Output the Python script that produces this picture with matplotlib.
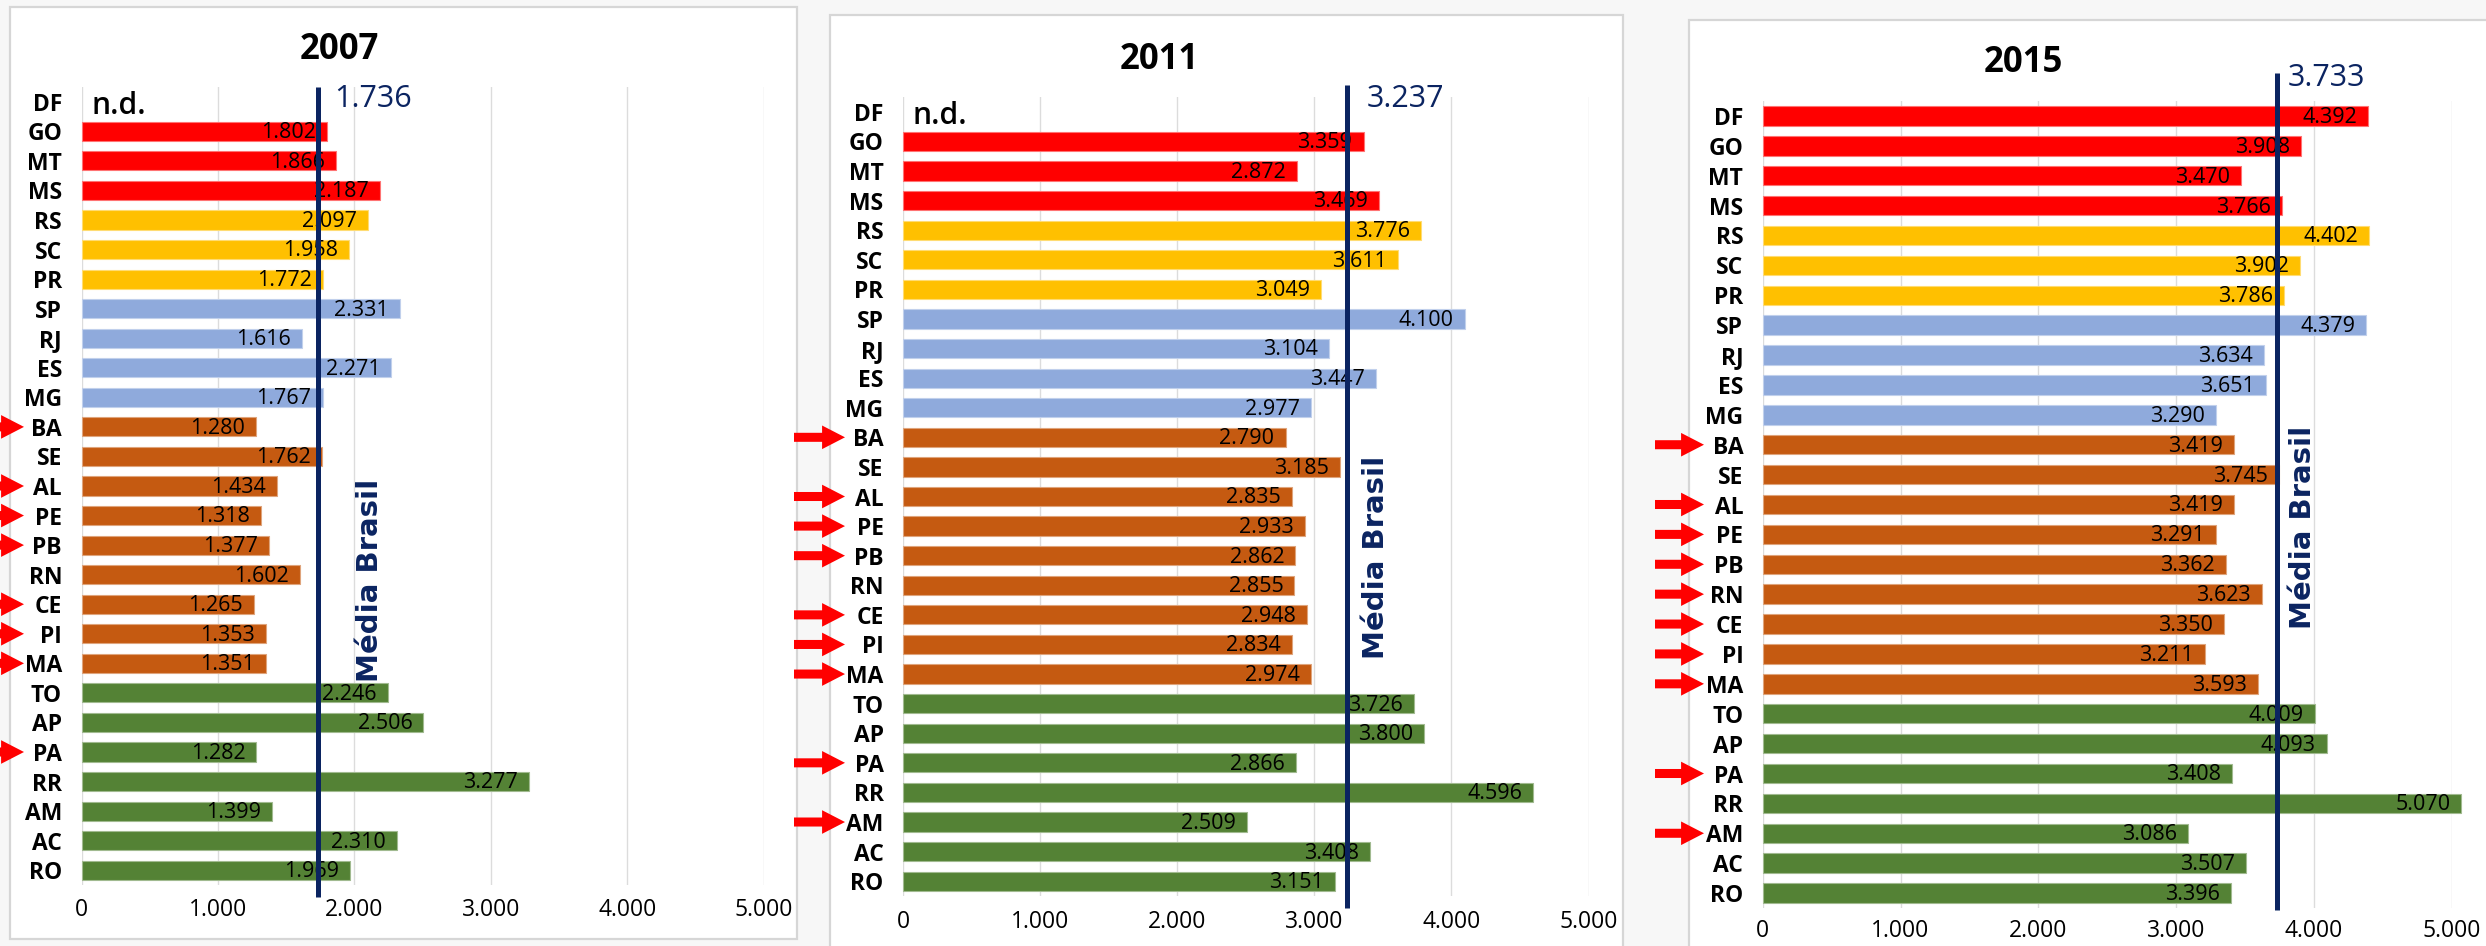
import numpy as np
import matplotlib
matplotlib.use("Agg")
import matplotlib.pyplot as plt
from matplotlib.transforms import blended_transform_factory
from matplotlib.patches import Rectangle
from matplotlib.colors import to_rgb

plt.rcParams['font.family'] = ['Open Sans', 'DejaVu Sans']

# ---- data -------------------------------------------------------------
states = ["DF", "GO", "MT", "MS", "RS", "SC", "PR", "SP", "RJ", "ES", "MG",
          "BA", "SE", "AL", "PE", "PB", "RN", "CE", "PI", "MA",
          "TO", "AP", "PA", "RR", "AM", "AC", "RO"]
regions = ["CO"] * 4 + ["S"] * 3 + ["SE"] * 4 + ["NE"] * 9 + ["N"] * 7

values_2007 = [None, 1802, 1866, 2187, 2097, 1958, 1772, 2331, 1616, 2271, 1767,
               1280, 1762, 1434, 1318, 1377, 1602, 1265, 1353, 1351,
               2246, 2506, 1282, 3277, 1399, 2310, 1969]
values_2011 = [None, 3359, 2872, 3469, 3776, 3611, 3049, 4100, 3104, 3447, 2977,
               2790, 3185, 2835, 2933, 2862, 2855, 2948, 2834, 2974,
               3726, 3800, 2866, 4596, 2509, 3408, 3151]
values_2015 = [4392, 3908, 3470, 3766, 4402, 3902, 3786, 4379, 3634, 3651, 3290,
               3419, 3745, 3419, 3291, 3362, 3623, 3350, 3211, 3593,
               4009, 4093, 3408, 5070, 3086, 3507, 3396]

years = ["2007", "2011", "2015"]
brazil_mean = [1736, 3237, 3733]

flagged_2007 = ["BA", "AL", "PE", "PB", "CE", "PI", "MA", "PA"]
flagged_2011 = ["BA", "AL", "PE", "PB", "CE", "PI", "MA", "PA", "AM"]
flagged_2015 = ["BA", "AL", "PE", "PB", "RN", "CE", "PI", "MA", "PA", "AM"]

x_ticks = [0, 1000, 2000, 3000, 4000, 5000]

# ---- styling ------------------------------------------------------------
region_colors = {"CO": "#FF0000", "S": "#FFC000", "SE": "#8FAADC",
                 "NE": "#C55A11", "N": "#548235"}
NAVY = "#0B2461"
GRID = "#DCDCDC"


def lighten(c, k=0.45):
    r, g, b = to_rgb(c)
    return (r + (1 - r) * k, g + (1 - g) * k, b + (1 - b) * k)


W, H = 2486, 946
fig = plt.figure(figsize=(W / 100, H / 100), dpi=100)
fig.patch.set_facecolor("#F7F7F7")


def fx(x):
    return x / W


def fy(y):
    return 1 - y / H


def fmt(v):
    return f"{v:,.0f}".replace(",", ".")


# panel layout in pixels: white card, plot area, decorations
panels = [
    dict(card=(9.5, 7, 797, 939), plot=(81.5, 87, 763.8, 885),
         title=(339, 50), line=(87, 897), mean_dx=16, mean_y=99,
         media=(370.5, 580), arrow=(-28, 24), xpad=9, nd=True),
    dict(card=(829.5, 15, 1623, 960), plot=(903, 97, 1588.5, 896),
         title=(1159, 60), line=(85, 908), mean_dx=20, mean_y=99,
         media=(1375.5, 557), arrow=(794, 845), xpad=10, nd=True),
    dict(card=(1689, 20, 2500, 960), plot=(1762.7, 101, 2451.8, 908),
         title=(2023.5, 63), line=(73, 910), mean_dx=11, mean_y=78,
         media=(2302.7, 527), arrow=(1655, 1704), xpad=8, nd=False),
]
series = [values_2007, values_2011, values_2015]
flags = [flagged_2007, flagged_2011, flagged_2015]

for p, vals, year, mean, flagged in zip(panels, series, years, brazil_mean, flags):
    # white card behind each chart
    cl, ct, cr, cb = p["card"]
    fig.patches.append(Rectangle((fx(cl), fy(cb)), fx(cr - cl), (cb - ct) / H,
                                 transform=fig.transFigure, facecolor="white",
                                 edgecolor="#D6D6D6", linewidth=1.6, zorder=-5))

    l, t, r, b = p["plot"]
    ax = fig.add_axes([fx(l), fy(b), fx(r - l), (b - t) / H])
    ax.set_zorder(2)
    ax.set_facecolor("none")
    ax.set_xlim(0, 5000)
    ax.set_ylim(len(states) - 0.5, -0.5)

    for xt in x_ticks:
        ax.axvline(xt, color=GRID, lw=1.0, zorder=0)

    idx = [i for i, v in enumerate(vals) if v is not None]
    ax.barh(idx, [vals[i] for i in idx], height=0.65,
            color=[region_colors[regions[i]] for i in idx],
            edgecolor=[lighten(region_colors[regions[i]]) for i in idx],
            linewidth=0.8, clip_on=False, zorder=2)
    for i in idx:
        ax.annotate(fmt(vals[i]), xy=(vals[i], i), xytext=(-8, -1),
                    textcoords="offset points", ha="right", va="center",
                    fontsize=15.5, color="black", zorder=4,
                    annotation_clip=False)
    if p["nd"]:
        ax.annotate("n.d.", xy=(0, 0), xytext=(7, -3), textcoords="offset points",
                    ha="left", va="center", fontsize=21.5, fontweight="semibold",
                    color="black")

    ax.set_yticks(range(len(states)))
    ax.set_yticklabels(states, fontsize=16.5, fontweight="bold")
    ax.set_xticks(x_ticks)
    ax.set_xticklabels([fmt(v) for v in x_ticks], fontsize=16.5)
    ax.tick_params(axis="both", length=0, colors="black")
    ax.tick_params(axis="y", pad=14)
    ax.tick_params(axis="x", pad=p["xpad"])
    for s in ax.spines.values():
        s.set_visible(False)

    # Brazil average line and its labels
    line_top, line_bot = p["line"]
    y_of = lambda ypix: (ypix - t) / (b - t) * len(states) - 0.5
    ax.plot([mean, mean], [y_of(line_top), y_of(line_bot)], color=NAVY,
            lw=3.6, clip_on=False, zorder=5, solid_capstyle="butt")
    mx = l + mean / 5000 * (r - l)
    fig.text(fx(mx + p["mean_dx"]), fy(p["mean_y"]), fmt(mean), fontsize=22,
             color=NAVY, ha="left", va="center")
    fig.text(fx(p["media"][0]), fy(p["media"][1]), "Média Brasil",
             family="DejaVu Sans", fontweight="bold", fontsize=21,
             color=NAVY, rotation=90, ha="center", va="center")

    fig.text(fx(p["title"][0]), fy(p["title"][1]), year, fontsize=25,
             fontweight="bold", ha="center", va="center")

    # red arrows pointing at the highlighted states
    tail, tip = p["arrow"]
    blend = blended_transform_factory(fig.transFigure, ax.transData)
    for st in flagged:
        row = states.index(st)
        ax.annotate("", xy=(fx(tip), row), xytext=(fx(tail), row),
                    xycoords=blend, textcoords=blend,
                    arrowprops=dict(arrowstyle="simple,head_length=1.65,head_width=1.7,tail_width=0.65",
                                    color="#FF0000", mutation_scale=10,
                                    shrinkA=0, shrinkB=0, lw=0),
                    annotation_clip=False, zorder=6)

fig.savefig("out.png", dpi=100, facecolor=fig.get_facecolor())
